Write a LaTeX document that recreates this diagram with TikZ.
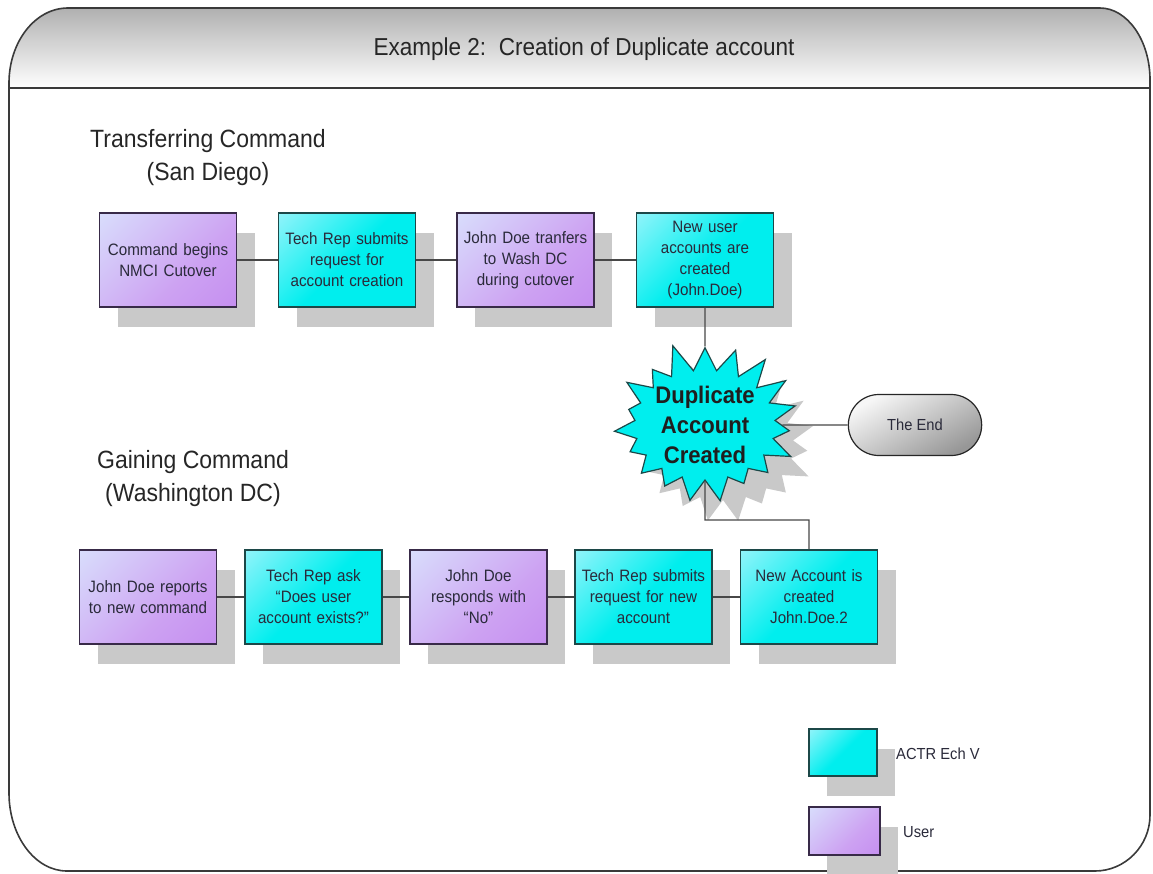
\documentclass[tikz,border=0pt]{standalone}
\usepackage{fontspec}
\setmainfont{Liberation Sans}[FakeStretch=0.92]
\usetikzlibrary{shapes.symbols,shapes.misc,shadows}

\definecolor{frameline}{HTML}{3A3A3A}
\definecolor{headtop}{HTML}{A8A8A8}
\definecolor{cyanfill}{HTML}{00EEEE}
\definecolor{cyanlight}{HTML}{CCF6FF}
\definecolor{purpfill}{HTML}{C184F0}
\definecolor{purpmid}{HTML}{CDA2F2}
\definecolor{purplight}{HTML}{DCF0FF}
\definecolor{shadowgray}{HTML}{C9C9C9}
\definecolor{cyanline}{HTML}{1C4848}
\definecolor{purpline}{HTML}{382A48}
\definecolor{txt}{HTML}{2A2A3A}
\definecolor{endlight}{HTML}{F6F6F6}
\definecolor{enddark}{HTML}{979797}

% diagonal fades: light corner at the top left, full colour over most of the box
\pgfdeclareverticalshading{actorfade}{100bp}{color(0bp)=(cyanfill); color(50bp)=(cyanfill); color(100bp)=(cyanlight)}
\pgfdeclareverticalshading{userfade}{100bp}{color(0bp)=(purpfill); color(40bp)=(purpmid); color(100bp)=(purplight)}

\tikzset{
  flowbox/.style={rectangle, minimum width=137pt, minimum height=94pt,
    inner sep=2pt, text width=133pt, align=center, line width=1.2pt,
    text=txt, font=\fontsize{16.5}{21}\selectfont,
    general shadow={shadow xshift=18pt, shadow yshift=-20pt, fill=shadowgray}},
  actorbox/.style={flowbox, draw=cyanline, shade, shading=actorfade, shading angle=45},
  userbox/.style={flowbox, draw=purpline, shade, shading=userfade, shading angle=45},
  keyactor/.style={actorbox, minimum width=68pt, minimum height=47pt, text width=60pt},
  keyuser/.style={userbox, minimum width=71pt, minimum height=48pt, text width=60pt},
  heading/.style={align=center, text=black!85, font=\fontsize{25}{33}\selectfont},
  keylabel/.style={anchor=west, inner sep=0pt, text=txt, font=\fontsize{16}{20}\selectfont},
  link/.style={draw=black!72, line width=1.4pt},
}

\begin{document}
\begin{tikzpicture}[x=1pt, y=-1pt]
\useasboundingbox (0,0) rectangle (1153,873);

% header band with a grey gradient
\begin{scope}
  \clip (9,83) .. controls (9,42) and (35,8) .. (68,8) -- (1100,8)
    .. controls (1127,8) and (1150,40) .. (1150,80) -- (1150,88) -- (9,88) -- cycle;
  \shade[top color=headtop, bottom color=white] (0,0) rectangle (1153,88);
\end{scope}

% outer frame
\draw[frameline, line width=1.6pt]
  (9,83) .. controls (9,42) and (35,8) .. (68,8) -- (1100,8)
  .. controls (1127,8) and (1150,40) .. (1150,80) -- (1150,815)
  .. controls (1150,846) and (1125,871) .. (1095,871) -- (67,871)
  .. controls (35,871) and (9,836) .. (9,793) -- cycle;
\draw[frameline, line width=1.6pt] (9,88) -- (1150,88);

\node[text=black!85, font=\fontsize{24.5}{30}\selectfont] (title) at (584,49)
  {Example 2:\ \ Creation of Duplicate account};

% lane headings
\node[heading] (lane1) at (208,158) {Transferring Command\\(San Diego)};
\node[heading] (lane2) at (193,479) {Gaining Command\\(Washington DC)};

% transferring command
\node[userbox]  (b1) at (168,260)   {Command begins\\NMCI Cutover};
\node[actorbox] (b2) at (347,260)   {Tech Rep submits\\request for\\account creation};
\node[userbox]  (b3) at (525.5,260) {John Doe tranfers\\to Wash DC\\during cutover};
\node[actorbox] (b4) at (705,260)   {New user\\accounts are\\created\\(John.Doe)};

% gaining command
\node[userbox]  (b5) at (148,597)   {John Doe reports\\to new command};
\node[actorbox] (b6) at (313.5,597) {Tech Rep ask\\``Does user\\account exists?''};
\node[userbox]  (b7) at (478.5,597) {John Doe\\responds with\\``No''};
\node[actorbox] (b8) at (643.5,597) {Tech Rep submits\\request for new\\account};
\node[actorbox] (b9) at (809,597)   {New Account is\\created\\John.Doe.2};

% outcome
\node[starburst, starburst points=19, starburst point height=30pt,
  random starburst=11, minimum width=194pt, minimum height=170pt,
  inner sep=0pt, fill=cyanfill, draw=cyanline, line width=1.2pt,
  align=center, text=black!88, font=\bfseries\fontsize{24}{30}\selectfont,
  general shadow={shadow xshift=18pt, shadow yshift=-20pt, fill=shadowgray}]
  (star) at (705,425) {Duplicate\\Account\\Created};

\node[rounded rectangle, minimum width=140pt, minimum height=61pt,
  draw=black!85, line width=1.2pt, top color=endlight, bottom color=enddark,
  shading angle=30, text=txt, font=\fontsize{16}{20}\selectfont]
  (end) at (915,425) {The End};

\coordinate (elbow) at (0,520);

% connectors
\draw[link] (b1) -- (b2);
\draw[link] (b2) -- (b3);
\draw[link] (b3) -- (b4);
\draw[link] (b4) -- (star);
\draw[link] (star) -- (end);
\draw[link] (b5) -- (b6);
\draw[link] (b6) -- (b7);
\draw[link] (b7) -- (b8);
\draw[link] (b8) -- (b9);
\draw[link] (star) -- (star |- elbow) -| (b9);

% key
\node[keyactor] (k1) at (843,752.5) {};
\node[keyuser]  (k2) at (844.5,831) {};
\node[keylabel] (k1t) at (896,754) {ACTR Ech V};
\node[keylabel] (k2t) at (903,832) {User};
\end{tikzpicture}
\end{document}
